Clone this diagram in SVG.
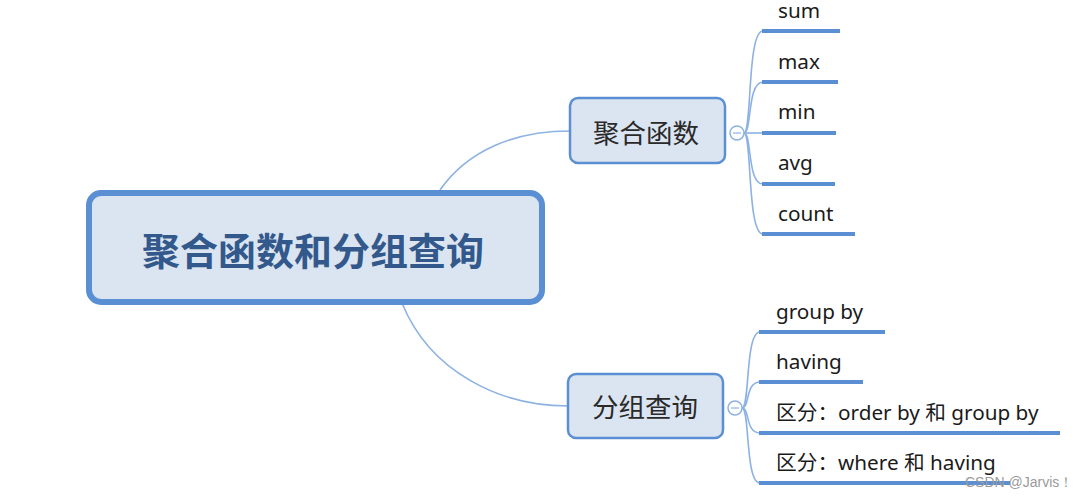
<svg xmlns="http://www.w3.org/2000/svg" width="1083" height="497" viewBox="0 0 1083 497">
<style>
.node rect{fill:#dbe5f1;stroke:#5b8fd4}
.t{font-family:"Noto Sans","Noto Sans CJK SC",sans-serif;fill:#1a1a1a;font-size:20.7px}
.cjk{font-family:"Noto Sans CJK SC",sans-serif}
.curve{fill:none;stroke:#8cb2e4;stroke-width:1.6}
.ul{stroke:#5b8fd4;stroke-width:4;fill:none}
.tog{fill:#ffffff;stroke:#8cb2e4;stroke-width:1.5}
.togl{stroke:#8cb2e4;stroke-width:1.2}
</style>
<rect width="1083" height="497" fill="#ffffff"/>
<g id="connectors">
<path class="curve" d="M440,190 C468,150 515,131 570,131"/>
<path class="curve" d="M402,303 C430,372 500,406 568,406"/>
<path class="curve" d="M744,133 C752,133 747,31 763,31"/>
<path class="curve" d="M744,133 C752,133 747,82 763,82"/>
<path class="curve" d="M744,133 L763,133"/>
<path class="curve" d="M744,133 C752,133 747,184 763,184"/>
<path class="curve" d="M744,133 C752,133 747,234 763,234"/>
<path class="curve" d="M742,408 C750,408 745,332 760,332"/>
<path class="curve" d="M742,408 C750,408 745,382 760,382"/>
<path class="curve" d="M742,408 C750,408 745,433 760,433"/>
<path class="curve" d="M742,408 C750,408 745,483 760,483"/>
<line class="ul" x1="762" y1="31" x2="840" y2="31"/>
<line class="ul" x1="762" y1="82" x2="838" y2="82"/>
<line class="ul" x1="762" y1="133" x2="836" y2="133"/>
<line class="ul" x1="762" y1="184" x2="835" y2="184"/>
<line class="ul" x1="762" y1="234" x2="855" y2="234"/>
<line class="ul" x1="759" y1="332" x2="885" y2="332"/>
<line class="ul" x1="759" y1="382" x2="863" y2="382"/>
<line class="ul" x1="759" y1="433" x2="1060" y2="433"/>
<line class="ul" x1="759" y1="483" x2="1010" y2="483"/>
</g>
<g id="root" class="node">
<rect x="89" y="193" width="453" height="109" rx="12" stroke-width="6"/>
<text class="cjk" x="313" y="265" font-size="38" font-weight="bold" fill="#33598c" text-anchor="middle">聚合函数和分组查询</text>
</g>
<g id="n1" class="node">
<rect x="570" y="98" width="155" height="65" rx="8" stroke-width="2.5"/>
<text class="cjk" x="646" y="143" font-size="26.5" fill="#2a2a2a" text-anchor="middle">聚合函数</text>
<circle class="tog" cx="737" cy="133" r="7"/>
<line class="togl" x1="733" y1="133" x2="741" y2="133"/>
</g>
<g id="n2" class="node">
<rect x="568" y="374" width="155" height="64" rx="8" stroke-width="2.5"/>
<text class="cjk" x="645" y="417" font-size="26.5" fill="#2a2a2a" text-anchor="middle">分组查询</text>
<circle class="tog" cx="735" cy="408" r="7"/>
<line class="togl" x1="731" y1="408" x2="739" y2="408"/>
</g>
<g id="c-sum"><text class="t" x="778" y="18">sum</text></g>
<g id="c-max"><text class="t" x="778" y="69">max</text></g>
<g id="c-min"><text class="t" x="778" y="119">min</text></g>
<g id="c-avg"><text class="t" x="778" y="170">avg</text></g>
<g id="c-count"><text class="t" x="778" y="221">count</text></g>
<g id="c-groupby"><text class="t" x="776" y="319">group by</text></g>
<g id="c-having"><text class="t" x="776" y="369">having</text></g>
<g id="c-order"><text class="t" x="776" y="420">区分：order by 和 group by</text></g>
<g id="c-where"><text class="t" x="776" y="470">区分：where 和 having</text></g>
<text x="965" y="487" font-family="Liberation Sans, sans-serif" font-size="14" fill="#9a9a9a">CSDN @Jarvis！</text>
</svg>
